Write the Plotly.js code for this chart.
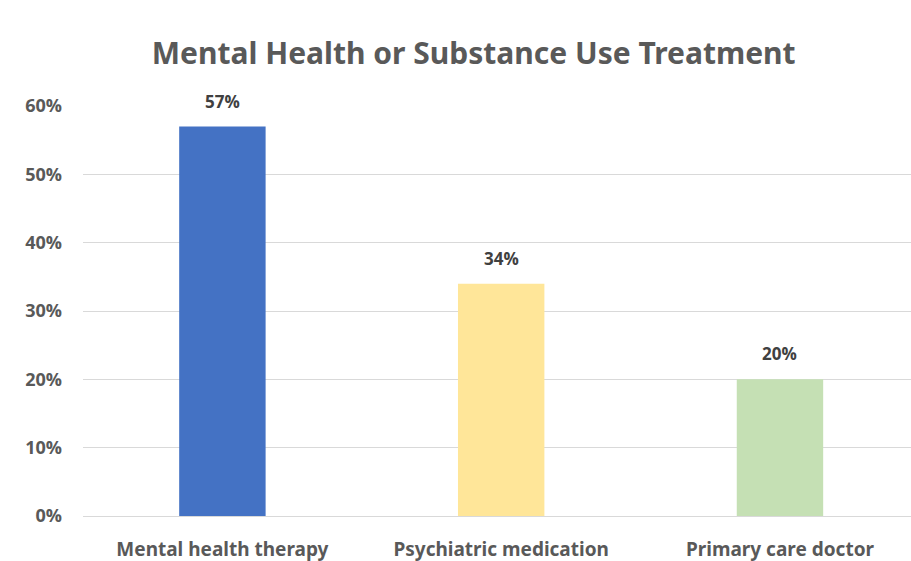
<!DOCTYPE html>
<html><head><meta charset="utf-8">
<script src="https://cdn.plot.ly/plotly-3.0.1.min.js"></script>
<style>html,body{margin:0;padding:0;background:#fff}#chart{width:911px;height:561px}</style>
</head><body><div id="chart"></div>
<script>
const categories = ["Mental health therapy", "Psychiatric medication", "Primary care doctor"];
const values = [0.57, 0.34, 0.20];
const labels = ["57%", "34%", "20%"];
const colors = ["#4472C4", "#FFE699", "#C5E0B4"];
const yTicks = [0, 0.1, 0.2, 0.3, 0.4, 0.5, 0.6];
const yTickText = ["0%", "10%", "20%", "30%", "40%", "50%", "60%"];

const trace = {
  type: "bar", x: categories, y: values,
  marker: {color: colors}, width: 0.31, hoverinfo: "none"
};
const annotations = categories.map((c, i) => ({
  x: c, y: values[i], xref: "x", yref: "y", text: "<b>" + labels[i] + "</b>",
  showarrow: false, yanchor: "bottom", yshift: 12,
  font: {family: "Open Sans, sans-serif", size: 17, color: "#404040"}
}));
const layout = {
  width: 911, height: 561,
  margin: {l: 83, r: 0, t: 106, b: 45},
  paper_bgcolor: "#fff", plot_bgcolor: "#fff",
  showlegend: false,
  annotations: annotations,
  title: {text: "<b>Mental Health or Substance Use Treatment</b>", x: 0.52, xanchor: "center", y: 0.905, yanchor: "middle",
    font: {family: "Noto Sans, sans-serif", size: 30, color: "#595959"}},
  xaxis: {range: [-0.5, 2.47], showgrid: false, zeroline: false, showline: false, ticks: "", ticklabelstandoff: 20,
    tickfont: {family: "Noto Sans, sans-serif", size: 19, color: "#595959", weight: "bold"}},
  yaxis: {range: [0, 0.6], tickvals: yTicks, ticktext: yTickText, showgrid: true, gridcolor: "#D9D9D9", gridwidth: 1,
    zeroline: true, zerolinecolor: "#D9D9D9", zerolinewidth: 1, ticks: "", ticklabelstandoff: 20,
    tickfont: {family: "Open Sans, sans-serif", size: 18, color: "#595959", weight: "bold"}}
};
Plotly.newPlot("chart", [trace], layout, {displayModeBar: false, staticPlot: true});
</script></body></html>
